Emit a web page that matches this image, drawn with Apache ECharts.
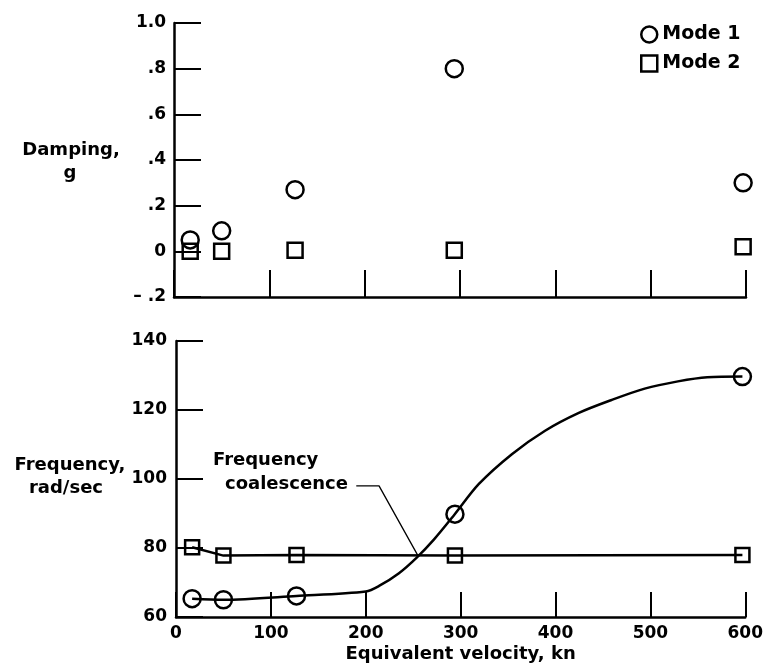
<!DOCTYPE html>
<html>
<head>
<meta charset="utf-8">
<script src="https://cdn.jsdelivr.net/npm/echarts@6/dist/echarts.min.js"></script>
<style>
html,body{margin:0;padding:0;background:#fff;}
#c{width:766px;height:669px;}
</style>
</head>
<body>
<div id="c"></div>
<script>
// ---- data ----
const velocity = [17, 50, 127, 294, 597];             // kn
const dampingMode1 = [0.05, 0.09, 0.27, 0.80, 0.30];   // g
const dampingMode2 = [0.00, 0.00, 0.005, 0.005, 0.02];
const freqMode1 = [65.3, 65.0, 66.1, 89.8, 129.7];     // rad/sec
const freqMode2 = [80.2, 77.8, 78.0, 77.8, 78.0];
// faired curve through Mode 1 frequency
const mode1CurveV = [17, 50, 127, 200, 214, 235, 254, 272, 293, 319, 354, 389, 424, 459, 494, 529, 560, 597];
const mode1CurveF = [65.3, 65.0, 66.1, 67.4, 69.0, 72.7, 77.3, 82.5, 89.5, 98.5, 107.2, 114.0, 119.1, 122.9, 126.2, 128.3, 129.5, 129.7];
// faired line through Mode 2 frequency
const mode2CurveV = [17, 50, 127, 294, 597];
const mode2CurveF = [80.2, 77.8, 78.0, 77.8, 78.0];
// leader of the "Frequency coalescence" note
const leaderV = [190, 214, 255];
const leaderF = [98, 98, 77.8];
// axis ticks
const velocityTicks = [0, 100, 200, 300, 400, 500, 600];
const dampingTicks = [-0.2, 0, 0.2, 0.4, 0.6, 0.8, 1.0];
const freqTicks = [60, 80, 100, 120, 140];

const zip = (a, b) => a.map((v, i) => [v, b[i]]);
const FONT = '"DejaVu Sans", sans-serif';
const black = '#000';

function dampLabel(v) {
  const r = Math.round(v * 10) / 10;
  if (r === 0) return '0';
  if (r === 1) return '1.0';
  if (r < 0) return '\u2013 .' + String(Math.round(-r * 10));
  return '.' + String(Math.round(r * 10));
}

const axisLine = { show: true, onZero: false, lineStyle: { color: black, width: 2.5 } };
const axisTick = { show: true, inside: true, length: 27, lineStyle: { color: black, width: 2 } };
const tickFont = { color: black, fontFamily: FONT, fontWeight: 'bold', fontSize: 17 };
const markerStyle = { color: 'rgba(255,255,255,0)', borderColor: black, borderWidth: 2.5, opacity: 1 };

const chart = echarts.init(document.getElementById('c'), null, { renderer: 'canvas' });

const option = {
  backgroundColor: '#fff',
  animation: false,
  grid: [
    { left: 174, top: 23, width: 572, height: 274 },
    { left: 176, top: 341, width: 572, height: 276 }
  ],
  legend: {
    orient: 'vertical',
    left: 640, top: 25, padding: 0,
    itemWidth: 16, itemHeight: 16, itemGap: 10,
    data: ['Mode 1', 'Mode 2'],
    itemStyle: { borderWidth: 2.5, borderColor: black, color: 'rgba(255,255,255,0)' },
    textStyle: { color: black, fontFamily: FONT, fontWeight: 'bold', fontSize: 19, lineHeight: 18 }
  },
  xAxis: [
    {
      gridIndex: 0, type: 'value', min: velocityTicks[0], max: velocityTicks[velocityTicks.length - 1], interval: 100,
      axisLine, axisTick, axisLabel: { show: false }, splitLine: { show: false }
    },
    {
      gridIndex: 1, type: 'value', min: velocityTicks[0], max: velocityTicks[velocityTicks.length - 1], interval: 100,
      axisLine, axisTick: Object.assign({}, axisTick, { length: 25 }),
      axisLabel: Object.assign({ margin: 8 }, tickFont), splitLine: { show: false },
      name: 'Equivalent velocity, kn', nameLocation: 'middle', nameGap: 28,
      nameTextStyle: { color: black, fontFamily: FONT, fontWeight: 'bold', fontSize: 18 }
    }
  ],
  yAxis: [
    {
      gridIndex: 0, type: 'value', min: dampingTicks[0], max: dampingTicks[dampingTicks.length - 1], interval: 0.2,
      axisLine, axisTick, splitLine: { show: false },
      axisLabel: Object.assign({ margin: 8, formatter: dampLabel }, tickFont)
    },
    {
      gridIndex: 1, type: 'value', min: freqTicks[0], max: freqTicks[freqTicks.length - 1], interval: 20,
      axisLine, axisTick, splitLine: { show: false },
      axisLabel: Object.assign({ margin: 9 }, tickFont)
    }
  ],
  series: [
    {
      name: 'Mode 1', type: 'scatter', xAxisIndex: 0, yAxisIndex: 0,
      symbol: 'circle', symbolSize: 17, itemStyle: markerStyle, z: 5,
      data: zip(velocity, dampingMode1)
    },
    {
      name: 'Mode 2', type: 'scatter', xAxisIndex: 0, yAxisIndex: 0,
      symbol: 'rect', symbolSize: 15, itemStyle: markerStyle, z: 5,
      data: zip(velocity, dampingMode2)
    },
    {
      name: 'Mode 1', type: 'scatter', xAxisIndex: 1, yAxisIndex: 1,
      symbol: 'circle', symbolSize: 17, itemStyle: markerStyle, z: 5,
      data: zip(velocity, freqMode1)
    },
    {
      name: 'Mode 2', type: 'scatter', xAxisIndex: 1, yAxisIndex: 1,
      symbol: 'rect', symbolSize: 14, itemStyle: markerStyle, z: 5,
      data: zip(velocity, freqMode2)
    },
    {
      name: 'Mode 1', type: 'line', xAxisIndex: 1, yAxisIndex: 1,
      showSymbol: false, smooth: 0.3, silent: true,
      lineStyle: { color: black, width: 2.5 },
      data: zip(mode1CurveV, mode1CurveF)
    },
    {
      name: 'Mode 2', type: 'line', xAxisIndex: 1, yAxisIndex: 1,
      showSymbol: false, smooth: false, silent: true,
      lineStyle: { color: black, width: 2.5 },
      data: zip(mode2CurveV, mode2CurveF)
    },
    {
      name: 'leader', type: 'line', xAxisIndex: 1, yAxisIndex: 1,
      showSymbol: false, silent: true,
      lineStyle: { color: black, width: 1.3 },
      data: zip(leaderV, leaderF)
    }
  ],
  graphic: [
    { type: 'text', x: 71, y: 150.5, style: { text: 'Damping,', align: 'center', verticalAlign: 'middle', fill: black, font: 'bold 18px ' + FONT } },
    { type: 'text', x: 70, y: 173.5, style: { text: 'g', align: 'center', verticalAlign: 'middle', fill: black, font: 'bold 18px ' + FONT } },
    { type: 'text', x: 70, y: 465.5, style: { text: 'Frequency,', align: 'center', verticalAlign: 'middle', fill: black, font: 'bold 18px ' + FONT } },
    { type: 'text', x: 66, y: 488.5, style: { text: 'rad/sec', align: 'center', verticalAlign: 'middle', fill: black, font: 'bold 18px ' + FONT } },
    { type: 'text', x: 213, y: 460.5, style: { text: 'Frequency', align: 'left', verticalAlign: 'middle', fill: black, font: 'bold 18px ' + FONT } },
    { type: 'text', x: 225, y: 484.5, style: { text: 'coalescence', align: 'left', verticalAlign: 'middle', fill: black, font: 'bold 18px ' + FONT } }
  ]
};
chart.setOption(option);
</script>
</body>
</html>
